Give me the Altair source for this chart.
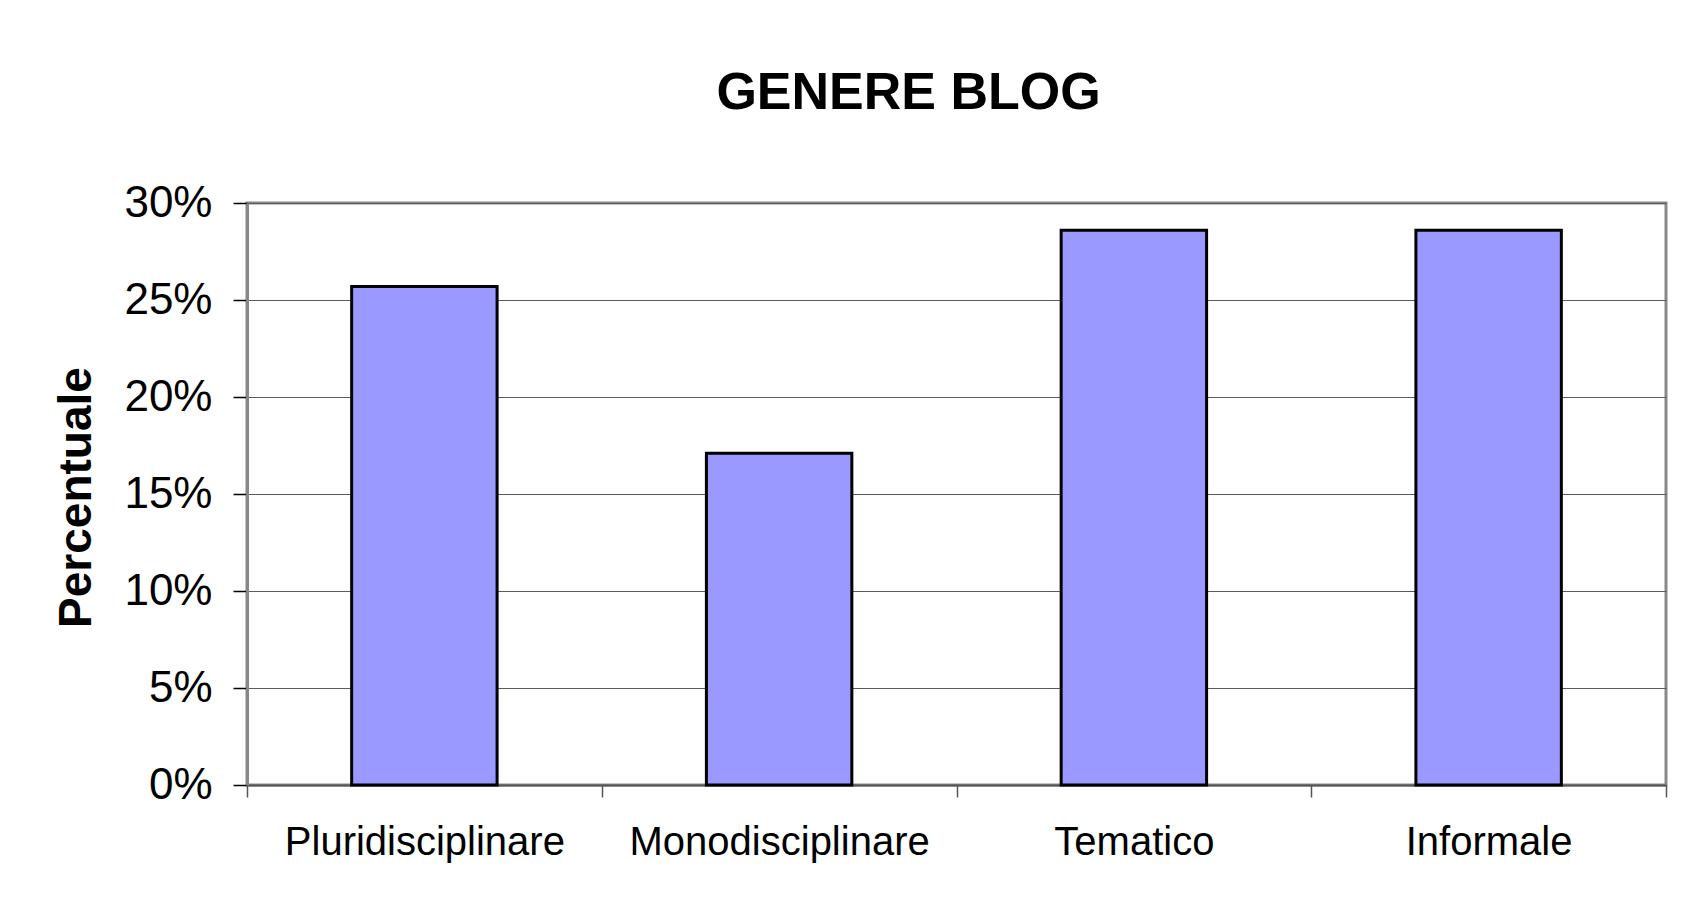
import altair as alt
import pandas as pd

categories = ["Pluridisciplinare", "Monodisciplinare", "Tematico", "Informale"]
values = [0.257, 0.171, 0.286, 0.286]
y_ticks = [0, 0.05, 0.10, 0.15, 0.20, 0.25, 0.30]

df = pd.DataFrame({"genere": categories, "perc": values})

chart = alt.Chart(df).mark_bar(
    color="#9999FF", stroke="#000000", strokeWidth=3,
    width=alt.RelativeBandSize(0.41)
).encode(
    x=alt.X("genere:N", sort=categories,
            scale=alt.Scale(paddingInner=0, paddingOuter=0),
            axis=alt.Axis(title=None, labelAngle=0, labelFont="Liberation Sans",
                          labelFontSize=40, labelColor="#000000", labelPadding=25,
                          labelLimit=0,
                          tickBand="extent", tickSize=12, tickColor="#555555", tickWidth=1.5,
                          domainColor="#555555", domainWidth=2, labelBaseline="top")),
    y=alt.Y("perc:Q", scale=alt.Scale(domain=[0, 0.30], nice=False),
            axis=alt.Axis(title="Percentuale", format=".0%", values=y_ticks,
                          labelFont="Liberation Sans", labelFontSize=44, labelColor="#000000",
                          labelPadding=21, tickSize=14, tickColor="#000000", tickWidth=1.5,
                          grid=True, gridColor="#5a5a5a", gridWidth=1,
                          domainColor="#888888", domainWidth=3,
                          titleFont="Liberation Sans", titleFontSize=46, titleFontWeight="bold",
                          titleColor="#000000", titleAngle=270, titleAlign="center",
                          titleBaseline="middle", titleX=-171, titleY=294)),
).properties(
    width=1419, height=582,
    title=alt.TitleParams("GENERE BLOG", font="Liberation Sans", fontSize=52, fontWeight="bold",
                          color="#000000", anchor="middle", frame="group", baseline="alphabetic",
                          offset=20, dx=-48),
    autosize=alt.AutoSizeParams(type="none"),
    padding={"left": 239, "top": 195, "right": 24, "bottom": 110},
    background="#ffffff",
).configure_view(
    stroke="#888888", strokeWidth=3
)

chart.save("out.html", embed_options={"renderer": "svg", "actions": False})
